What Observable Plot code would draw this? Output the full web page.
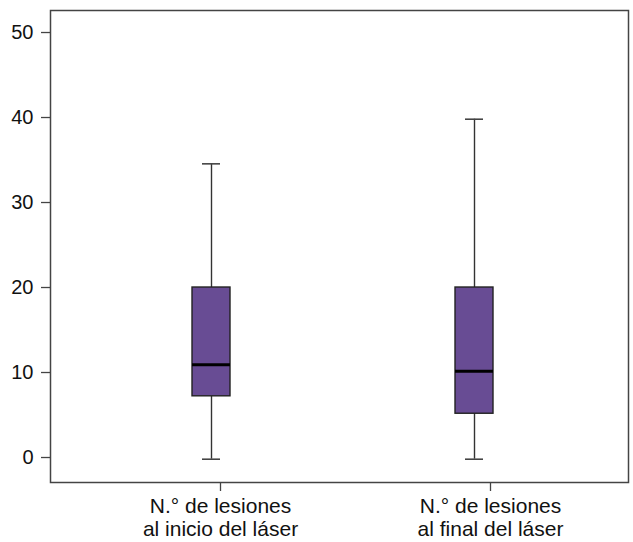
<!DOCTYPE html>
<html>
<head>
<meta charset="utf-8">
<script src="https://cdn.jsdelivr.net/npm/d3@7"></script>
<script src="https://cdn.jsdelivr.net/npm/@observablehq/plot@0.6"></script>
<style>
  html, body { margin: 0; padding: 0; background: #fff; }
  #chart svg { display: block; }
</style>
</head>
<body>
<div id="chart"></div>
<script>
const categories = ["inicio", "final"];
const categoryLabels = ["N.° de lesiones\nal inicio del láser", "N.° de lesiones\nal final del láser"];
const whiskerLow = [-0.2, -0.2];
const q1 = [7.2, 5.15];
const median = [10.9, 10.15];
const q3 = [20.0, 20.0];
const whiskerHigh = [34.55, 39.8];
const yTicks = [0, 10, 20, 30, 40, 50];

const data = categories.map((c, i) => ({
  cat: c, low: whiskerLow[i], q1: q1[i], median: median[i], q3: q3[i], high: whiskerHigh[i]
}));
const labelOf = new Map(categories.map((c, i) => [c, categoryLabels[i]]));

const font = "Liberation Sans, Arial, Helvetica, sans-serif";
const xAxisStyle = { label: null, tickSize: 9, tickPadding: 6, stroke: "#444", strokeWidth: 1.3, fontSize: 21, fill: "#111", lineHeight: 1.06, tickFormat: d => labelOf.get(d) };
const chart = Plot.plot({
  width: 633,
  height: 542,
  marginLeft: 50,
  marginRight: 5,
  marginTop: 10,
  marginBottom: 60,
  style: { fontFamily: font, fontSize: "20px", color: "#111", background: "#fff" },
  x: { type: "band", domain: categories, range: [191, 493], paddingInner: 0.856, paddingOuter: 0, axis: null },
  y: { domain: [-2.94, 52.59], axis: null },
  marks: [
    Plot.ruleX(data, { x: "cat", y1: "low", y2: "q1", stroke: "#333", strokeWidth: 1.4 }),
    Plot.ruleX(data, { x: "cat", y1: "q3", y2: "high", stroke: "#333", strokeWidth: 1.4 }),
    Plot.tickY(data, { x: "cat", y: "low", stroke: "#444", strokeWidth: 1.6, insetLeft: 10, insetRight: 10 }),
    Plot.tickY(data, { x: "cat", y: "high", stroke: "#444", strokeWidth: 1.6, insetLeft: 10, insetRight: 10 }),
    Plot.barY(data, { x: "cat", y1: "q1", y2: "q3", fill: "#684c94", stroke: "#222", strokeWidth: 1.4 }),
    Plot.tickY(data, { x: "cat", y: "median", stroke: "#000", strokeWidth: 3 }),
    Plot.frame({ stroke: "#444", strokeWidth: 1.5 }),
    Plot.axisY(yTicks, { label: null, tickSize: 9, tickPadding: 8, stroke: "#444", strokeWidth: 1.3, fontSize: 20, fill: "#111" }),
    Plot.axisX([categories[0]], { ...xAxisStyle, dx: 9 }),
    Plot.axisX([categories[1]], { ...xAxisStyle, dx: 16 })
  ]
});
document.getElementById("chart").appendChild(chart);
</script>
</body>
</html>
